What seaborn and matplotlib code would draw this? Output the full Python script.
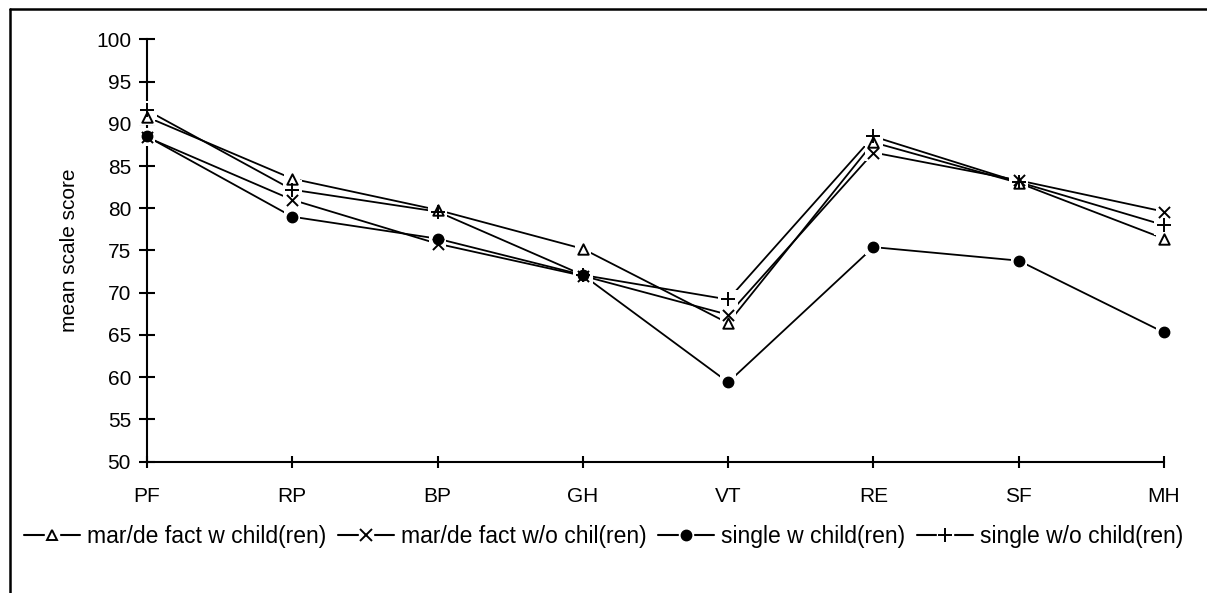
import matplotlib
matplotlib.use("Agg")
import matplotlib.pyplot as plt
from matplotlib.lines import Line2D
from matplotlib.legend_handler import HandlerTuple
import seaborn as sns
import pandas as pd

# SF-36 subscales
scales = ["PF", "RP", "BP", "GH", "VT", "RE", "SF", "MH"]

married_with_children = [90.8, 83.5, 79.8, 75.2, 66.4, 87.8, 83.0, 76.4]
married_without_children = [88.4, 81.0, 75.8, 72.0, 67.4, 86.6, 83.3, 79.6]
single_with_children = [88.5, 79.0, 76.4, 72.1, 59.4, 75.4, 73.8, 65.3]
single_without_children = [91.6, 82.2, 79.6, 72.1, 69.2, 88.5, 83.1, 78.0]

series_names = [
    "mar/de fact w child(ren)",
    "mar/de fact w/o chil(ren)",
    "single w child(ren)",
    "single w/o child(ren)",
]
series_values = [
    married_with_children,
    married_without_children,
    single_with_children,
    single_without_children,
]

# marker, face colour, size (pt), edge width
marker_styles = [
    ("^", "white", 7.5, 1.4),
    ("x", "black", 8, 1.4),
    ("o", "black", 7.5, 1.0),
    ("+", "black", 10, 1.4),
]

sns.set_theme(style="white")
plt.rcParams["font.family"] = ["Liberation Sans", "DejaVu Sans"]
plt.rcParams["text.color"] = "black"
plt.rcParams["axes.labelcolor"] = "black"

FS = 15
LEGEND_FS = 16.5

fig = plt.figure(figsize=(12.07, 5.93), dpi=100)
ax = fig.add_axes([147 / 1207, 1 - 461.7 / 593, (1164 - 147) / 1207, (461.7 - 39.3) / 593])

frames = []
for name, vals in zip(series_names, series_values):
    frames.append(pd.DataFrame({"scale": scales, "score": vals, "group": name}))
df = pd.concat(frames, ignore_index=True)

# connecting lines first
for name in series_names:
    sub = df[df["group"] == name]
    sns.lineplot(data=sub, x="scale", y="score", color="black", linewidth=1.3,
                 sort=False, ax=ax, legend=False, zorder=2)

# markers on top, each with a white halo that breaks the lines
for name, (mk, fc, ms, mew) in zip(series_names, marker_styles):
    sub = df[df["group"] == name]
    sns.scatterplot(data=sub, x="scale", y="score", marker="s", s=(ms + 4) ** 2,
                    color="white", edgecolor="none", ax=ax, legend=False, zorder=3)
    if mk in ("x", "+"):
        sns.scatterplot(data=sub, x="scale", y="score", marker=mk, s=ms ** 2,
                        color="black", linewidth=mew, ax=ax, legend=False, zorder=4)
    else:
        sns.scatterplot(data=sub, x="scale", y="score", marker=mk, s=ms ** 2,
                        facecolor=fc, edgecolor="black", linewidth=mew,
                        ax=ax, legend=False, zorder=4)

for artist in list(ax.collections) + list(ax.lines):
    artist.set_clip_on(False)

ax.set_xlim(0, len(scales) - 1)
ax.set_ylim(50, 100)
ax.set_yticks(range(50, 101, 5))
ax.set_xticks(range(len(scales)))
ax.set_xticklabels(scales)
ax.set_xlabel("")
ax.set_ylabel("mean scale score", fontsize=FS, labelpad=12)

for side in ("top", "right"):
    ax.spines[side].set_visible(False)
for side in ("left", "bottom"):
    ax.spines[side].set_visible(True)
    ax.spines[side].set_color("black")
    ax.spines[side].set_linewidth(1.5)

ax.tick_params(axis="y", direction="inout", length=11, width=1.5, labelsize=FS,
               left=True, pad=6, colors="black")
ax.tick_params(axis="x", direction="inout", length=9, width=1.5, labelsize=FS,
               bottom=True, pad=14, colors="black")
ax.grid(False)

# legend entries: line with a haloed marker in the middle
handles = []
for mk, fc, ms, mew in marker_styles:
    line = Line2D([], [], color="black", linewidth=1.5)
    halo = Line2D([], [], linestyle="", marker="s", markersize=ms + 2,
                  markerfacecolor="white", markeredgecolor="white")
    if mk in ("x", "+"):
        mark = Line2D([], [], linestyle="", marker=mk, markersize=ms,
                      color="black", markeredgewidth=mew)
    else:
        mark = Line2D([], [], linestyle="", marker=mk, markersize=ms,
                      markerfacecolor=fc, markeredgecolor="black", markeredgewidth=mew)
    handles.append((line, halo, mark))

fig.legend(handles, series_names, loc="center", bbox_to_anchor=(0.5, 1 - 537 / 593),
           ncol=4, frameon=False, fontsize=LEGEND_FS, handlelength=2.45,
           handletextpad=0.3, columnspacing=0.5,
           handler_map={tuple: HandlerTuple(ndivide=1)})

# outer border (left and top edges of the chart frame)
fig.add_artist(Line2D([10 / 1207, 10 / 1207], [0, 1 - 9 / 593], color="black",
                      linewidth=1.8, transform=fig.transFigure))
fig.add_artist(Line2D([10 / 1207, 1], [1 - 9 / 593, 1 - 9 / 593], color="black",
                      linewidth=1.8, transform=fig.transFigure))

fig.savefig("out.png", dpi=100, facecolor="white")
